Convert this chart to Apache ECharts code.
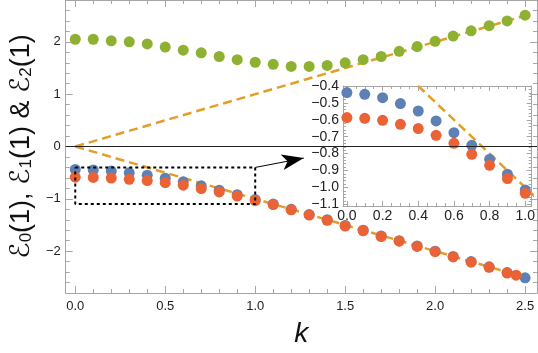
<!DOCTYPE html>
<html lang="en">
<head>
    <meta charset="UTF-8">
    <title>E(k)</title>
    <script src="https://cdn.jsdelivr.net/npm/echarts@6/dist/echarts.min.js"></script>
    <style>
        html, body { margin: 0; padding: 0; background: #fff; }
    </style>
</head>
<body>
<div id="chart" style="width: 538px; height: 353px"></div>

<script>
    // data
    var kMain = [0, 0.1, 0.2, 0.3, 0.4, 0.5, 0.6, 0.7, 0.8, 0.9, 1.0, 1.1, 1.2,
        1.3, 1.4, 1.5, 1.6, 1.7, 1.8, 1.9, 2.0, 2.1, 2.2, 2.3, 2.4, 2.5];
    var kE1 = [0, 0.1, 0.2, 0.3, 0.4, 0.5, 0.6, 0.7, 0.8, 0.9, 1.0, 1.1, 1.2,
        1.3, 1.4, 1.5, 1.6, 1.7, 1.8, 1.9, 2.0, 2.1, 2.2, 2.3, 2.4, 2.45];
    var e0 = [-0.439, -0.449, -0.469, -0.504, -0.548, -0.607, -0.676, -0.751, -0.834, -0.922, -1.015,
        -1.10, -1.20, -1.30, -1.40, -1.51, -1.60, -1.71, -1.80, -1.90, -2.00, -2.10, -2.20, -2.30, -2.41, -2.51];
    var e1 = [-0.587, -0.591, -0.603, -0.627, -0.652, -0.692, -0.739, -0.804, -0.869, -0.948, -1.035,
        -1.11, -1.21, -1.31, -1.41, -1.52, -1.61, -1.72, -1.81, -1.91, -2.01, -2.11, -2.21, -2.31, -2.42, -2.46];
    var e2 = [2.05, 2.05, 2.02, 2.00, 1.96, 1.90, 1.84, 1.79, 1.72, 1.66, 1.61, 1.57, 1.53,
        1.53, 1.55, 1.60, 1.66, 1.72, 1.82, 1.91, 2.01, 2.11, 2.21, 2.31, 2.40, 2.51];
    var insetCount = 11; // k = 0 .. 1.0 in the inset

    // asymptotes E = +k and E = -k
    var asymK = [0, 2.5];
    var asymUp = [0, 2.5];
    var asymDown = [0, -2.5];

    // zoom box and arrow
    var boxK = [0, 1, 1, 0, 0];
    var boxE = [-0.4, -0.4, -1.1, -1.1, -0.4];
    var arrowFrom = [1.0, -0.4];
    var arrowTo = [1.27, -0.222];

    // ticks
    var mainXTicks = [0, 0.5, 1.0, 1.5, 2.0, 2.5];
    var mainYTicks = [-2, -1, 0, 1, 2];
    var insetXTicks = [0, 0.2, 0.4, 0.6, 0.8, 1.0];
    var insetYTicks = [-1.1, -1.0, -0.9, -0.8, -0.7, -0.6, -0.5, -0.4];

    var BLUE = '#5E81B5', RED = '#EB6235', GREEN = '#8FB131', ORANGE = '#E39E26';
    var FRAME = '#a6a6a6';
    var FONT = '"Liberation Sans", Arial, "DejaVu Sans", sans-serif';

    function steps(from, to, step, skip) {
        var out = [];
        var n = Math.round((to - from) / step);
        for (var i = 0; i <= n; i++) {
            var v = +(from + i * step).toFixed(4);
            var isMajor = skip.some(function (m) { return Math.abs(m - v) < 1e-6; });
            if (!isMajor) out.push(v);
        }
        return out;
    }

    function pairs(xs, ys) {
        return xs.map(function (x, i) { return [x, ys[i]]; });
    }

    function minus(s) { return s.replace('-', '\u2212'); }

    // one side of a Mathematica-like frame: major ticks (+labels) and minor ticks
    function frameSide(grid, pos, min, max, majors, minors, fmt, showLabel, lens, fontSize, margin) {
        var base = {
            type: 'value', gridIndex: grid, min: min, max: max, position: pos,
            splitLine: {show: false}
        };
        var major = Object.assign({}, base, {
            axisLine: {show: true, onZero: false, lineStyle: {color: FRAME, width: 1}},
            axisTick: {show: true, inside: true, length: lens[0], customValues: majors,
                lineStyle: {color: FRAME, width: 1}},
            axisLabel: {show: showLabel, customValues: majors, formatter: fmt,
                color: '#222', fontSize: fontSize, fontFamily: FONT, margin: margin}
        });
        var minor = Object.assign({}, base, {
            axisLine: {show: false, onZero: false},
            axisTick: {show: true, inside: true, length: lens[1], customValues: minors,
                lineStyle: {color: FRAME, width: 1}},
            axisLabel: {show: false, customValues: minors}
        });
        return [major, minor];
    }

    var fmt1 = function (v) { return minus(v.toFixed(1)); };
    var fmt0 = function (v) { return minus(v.toFixed(0)); };

    var mainXMin = -0.053, mainXMax = 2.566, mainYMin = -2.8, mainYMax = 2.8;
    var inXMin = -0.022, inXMax = 1.036, inYMin = -1.11, inYMax = -0.4;

    var mainXMinor = steps(0, 2.5, 0.1, mainXTicks);
    var mainYMinor = steps(-2.8, 2.8, 0.2, mainYTicks);
    var inXMinor = steps(0, 1.0, 0.05, insetXTicks);
    var inYMinor = steps(-1.1, -0.4, 0.02, insetYTicks);

    var xAxes = [].concat(
        frameSide(0, 'bottom', mainXMin, mainXMax, mainXTicks, mainXMinor, fmt1, true, [7, 4], 13, 7),
        frameSide(0, 'top', mainXMin, mainXMax, mainXTicks, mainXMinor, fmt1, false, [7, 4], 13, 7),
        frameSide(1, 'bottom', inXMin, inXMax, insetXTicks, inXMinor, fmt1, true, [5, 3], 14, 3),
        frameSide(1, 'top', inXMin, inXMax, insetXTicks, inXMinor, fmt1, false, [5, 3], 14, 3)
    );
    var yAxes = [].concat(
        frameSide(0, 'left', mainYMin, mainYMax, mainYTicks, mainYMinor, fmt0, true, [7, 4], 13, 5),
        frameSide(0, 'right', mainYMin, mainYMax, mainYTicks, mainYMinor, fmt0, false, [7, 4], 13, 5),
        frameSide(1, 'left', inYMin, inYMax, insetYTicks, inYMinor, fmt1, true, [5, 3], 14, 4),
        frameSide(1, 'right', inYMin, inYMax, insetYTicks, inYMinor, fmt1, false, [5, 3], 14, 4)
    );

    xAxes[0].name = 'k';
    xAxes[0].nameLocation = 'middle';
    xAxes[0].nameGap = 27;
    xAxes[0].nameTextStyle = {fontSize: 28, fontStyle: 'italic', fontFamily: FONT, color: '#111'};

    yAxes[0].name = '{e|\u2130}{s|0}{e|(1), \u2130}{s|1}{e|(1) & \u2130}{s|2}{e|(1)}';
    yAxes[0].nameLocation = 'middle';
    yAxes[0].nameRotate = 90;
    yAxes[0].nameGap = 18;
    yAxes[0].nameTextStyle = {
        color: '#111',
        rich: {
            e: {fontSize: 27, fontFamily: FONT, color: '#111', lineHeight: 32, verticalAlign: 'bottom'},
            s: {fontSize: 17, fontFamily: FONT, color: '#111', lineHeight: 32, verticalAlign: 'bottom'}
        }
    };

    var INSET_X = 4, INSET_Y = 4;

    function dashed(xi, yi, data) {
        return {
            type: 'line', xAxisIndex: xi, yAxisIndex: yi, data: data, showSymbol: false, symbol: 'none',
            silent: true, clip: true, z: 2,
            lineStyle: {color: ORANGE, width: 2.5, type: [9, 5]}
        };
    }

    function dots(xi, yi, data, color, z) {
        return {
            type: 'scatter', xAxisIndex: xi, yAxisIndex: yi, data: data, symbolSize: 11,
            silent: true, clip: true, z: z, itemStyle: {color: color, opacity: 1}
        };
    }

    var upper = dashed(0, 0, pairs(asymK, asymUp));
    upper.markLine = {
        silent: true, symbol: ['none', 'none'], animation: false,
        label: {show: false},
        lineStyle: {color: '#222', width: 1, type: 'solid'},
        data: [{yAxis: 0}]
    };

    var box = {
        type: 'line', xAxisIndex: 0, yAxisIndex: 0, data: pairs(boxK, boxE), showSymbol: false, symbol: 'none',
        silent: true, z: 6,
        lineStyle: {color: '#000', width: 2, type: [3, 3]},
        markLine: {
            silent: true, animation: false, label: {show: false},
            lineStyle: {color: '#000', width: 1, type: 'solid'},
            data: [[
                {coord: arrowFrom, symbol: 'none'},
                {coord: arrowTo, symbol: 'arrow', symbolSize: [12, 22]}
            ]]
        }
    };

    var option = {
        animation: false,
        backgroundColor: '#fff',
        grid: [
            {left: 57, top: 0, width: 480, height: 296},
            {left: 343, top: 86, width: 194, height: 120}
        ],
        xAxis: xAxes,
        yAxis: yAxes,
        series: [
            upper,
            dashed(0, 0, pairs(asymK, asymDown)),
            dots(0, 0, pairs(kMain, e0), BLUE, 3),
            dots(0, 0, pairs(kE1, e1), RED, 4),
            dots(0, 0, pairs(kMain, e2), GREEN, 4),
            box,
            dashed(INSET_X, INSET_Y, pairs(asymK, asymDown)),
            dots(INSET_X, INSET_Y, pairs(kMain.slice(0, insetCount), e0.slice(0, insetCount)), BLUE, 3),
            dots(INSET_X, INSET_Y, pairs(kE1.slice(0, insetCount), e1.slice(0, insetCount)), RED, 4)
        ]
    };

    var myChart = echarts.init(document.getElementById('chart'));
    myChart.setOption(option);
</script>
</body>
</html>
